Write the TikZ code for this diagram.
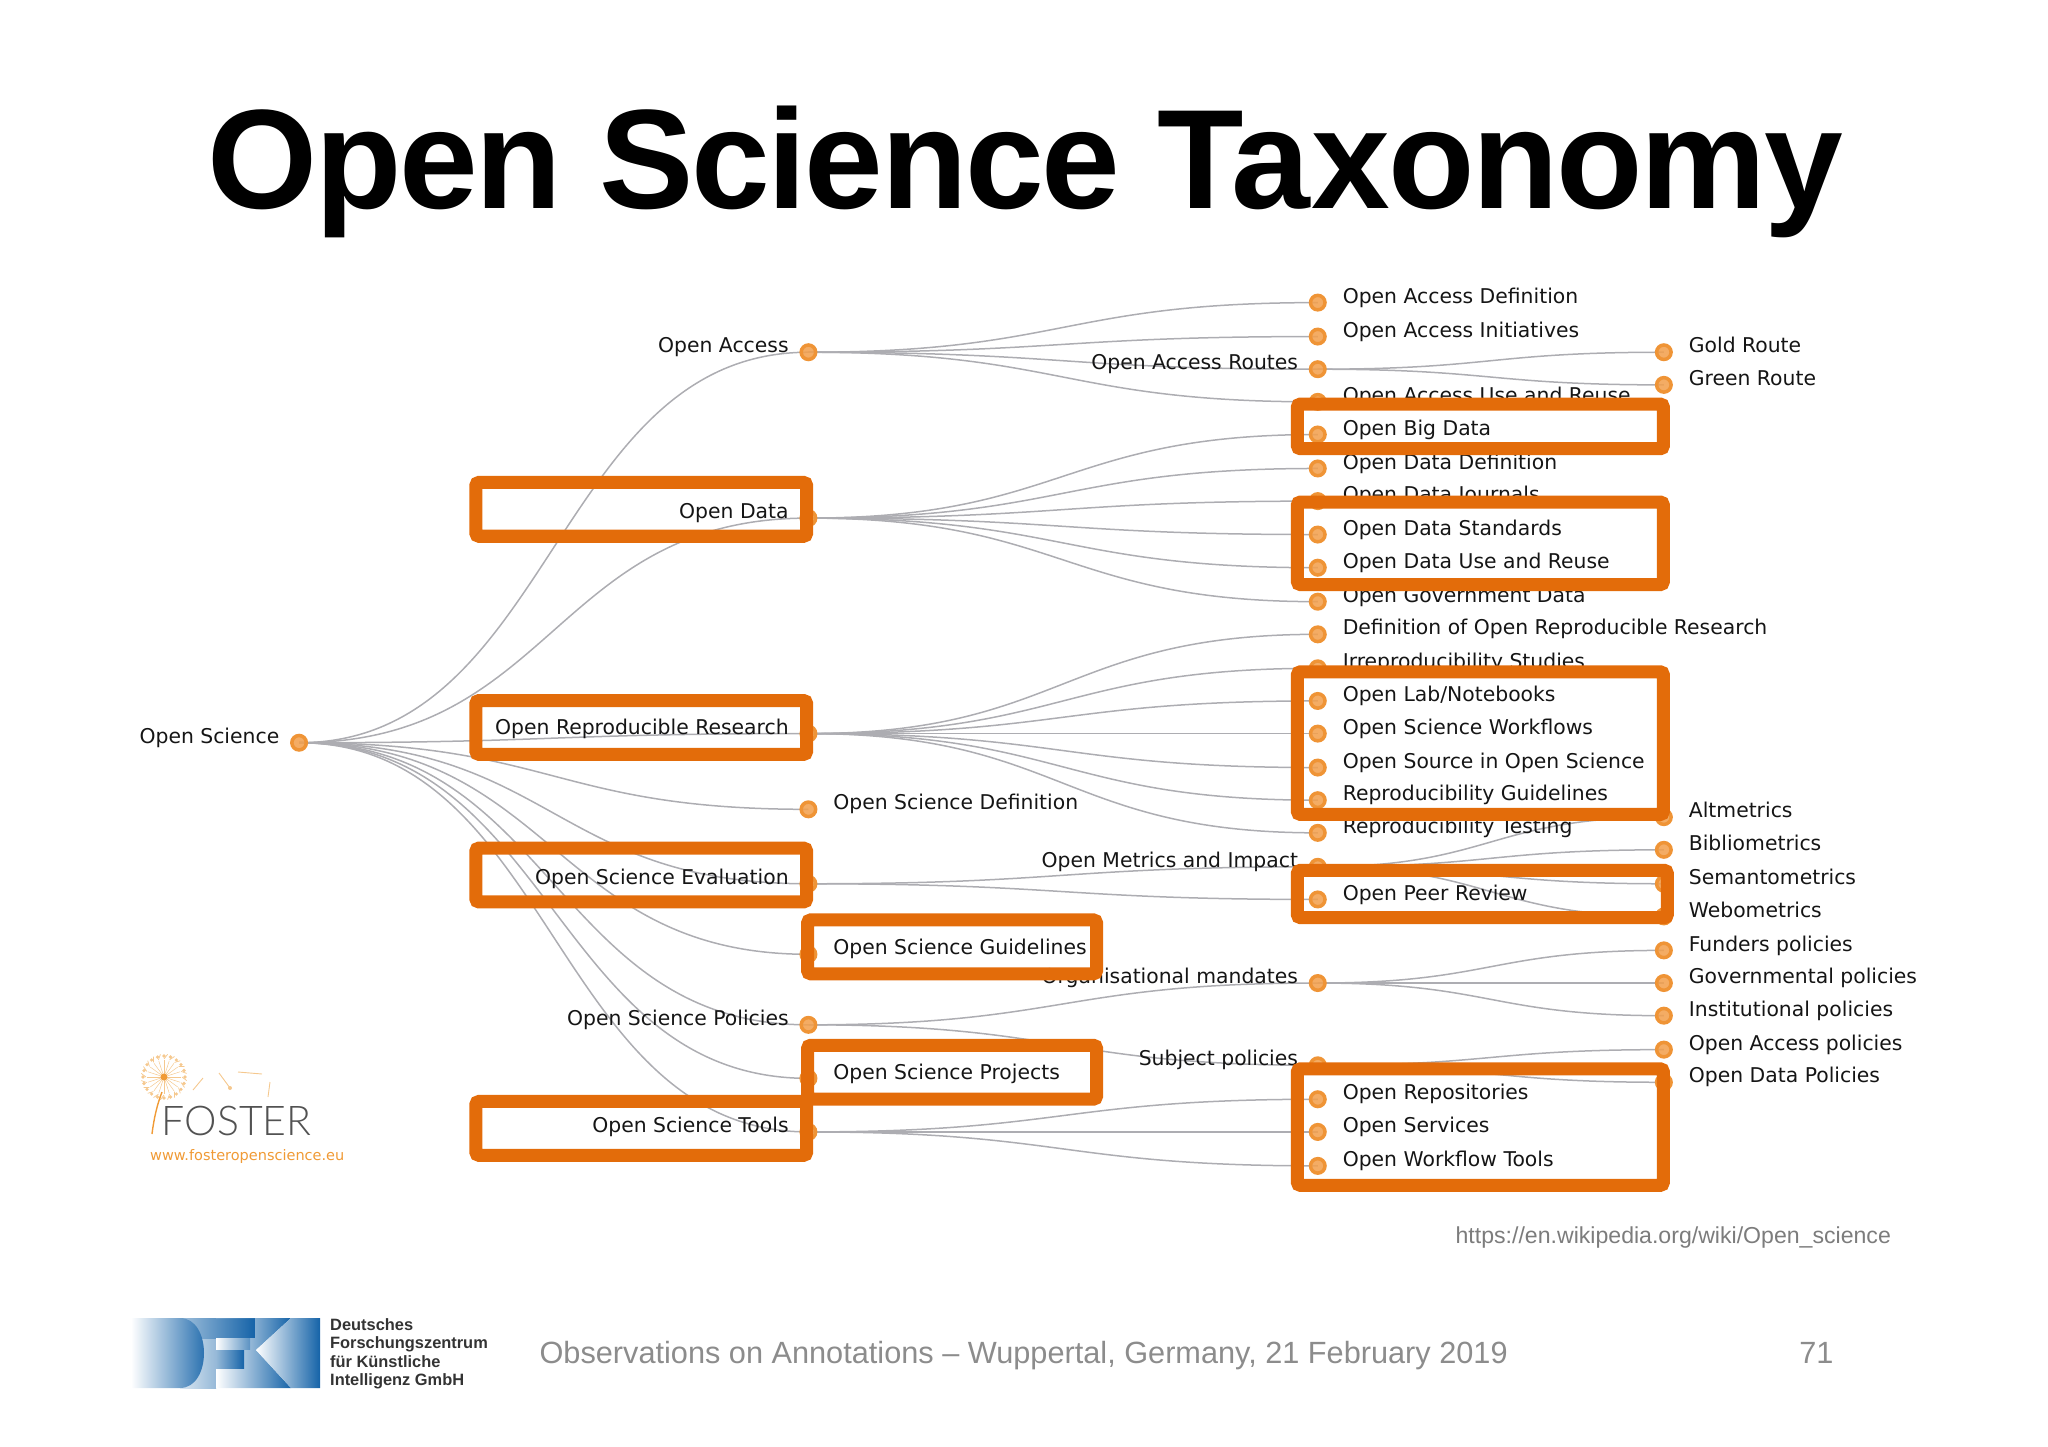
\documentclass[tikz,border=0pt]{standalone}
\usepackage{fontspec}
\usetikzlibrary{calc}
\setmainfont{DejaVu Sans}
\newfontfamily\helv{Liberation Sans}
\newfontfamily\titlef[LetterSpace=-1.6]{Liberation Sans}
\newfontfamily\fosfont[UprightFont=* Light]{Lato}
\definecolor{hlc}{HTML}{E36C0A}
\definecolor{linkc}{HTML}{ADADB2}
\definecolor{dotedge}{HTML}{EF9436}
\definecolor{dotfillc}{HTML}{F2A04E}
\definecolor{txt}{HTML}{151515}
\definecolor{foot}{HTML}{8C8C8C}
\definecolor{urlc}{HTML}{7C7C7C}
\definecolor{fo}{HTML}{F09A35}
\definecolor{fop}{HTML}{F5C88E}
\definecolor{dk}{HTML}{1563A8}
\pgfdeclarelayer{bg}
\pgfdeclarelayer{fg}
\pgfsetlayers{bg,main,fg}
\tikzset{
  link/.style={draw=linkc,line width=1.5pt},
  dotn/.style={circle,inner sep=0pt,minimum size=14.5pt,line width=3.5pt,draw=dotedge,fill=dotfillc,fill opacity=.88},
  lab/.style={inner sep=0pt,text=txt,font=\fontsize{20.35}{25}\selectfont},
  hl/.style={draw=hlc,line width=13pt,rounded corners=3pt},
  foottxt/.style={inner sep=0pt,text=foot,font=\helv\fontsize{30.7}{36}\selectfont},
  dfkit/.style={inner sep=0pt,anchor=base west,text=black!80,font=\helv\bfseries\fontsize{16.4}{18}\selectfont},
  seed/.style={draw=fop,line width=.9pt},
}
% dot + label on the right (leaf)
\newcommand{\lf}[4]{\node[dotn] (#1) at (#2,#3+.7) {};\node[lab,anchor=base west] (#1t) at ($(#2,#3)+(19,1.2)$) {#4};}
% dot + label on the left
\newcommand{\rt}[4]{\node[dotn] (#1) at (#2,#3+.7) {};\node[lab,anchor=base east] (#1t) at ($(#2,#3)+(-15,1.2)$) {#4};}
\newcommand{\lnk}[2]{\draw[link] (#1.center) .. controls ($(#1.center)!.5!(#2.center |- #1.center)$) and ($(#2.center)!.5!(#1.center |- #2.center)$) .. (#2.center);}
\newcommand{\hlb}[4]{\draw[hl] (#1+4.4,#2+4.4) rectangle (#3-4.4,#4-4.4);}
\begin{document}
\begin{tikzpicture}[x=1.306pt,y=-1.306pt]
\useasboundingbox (0,0) rectangle (1568.15,1107.96);
\node[inner sep=0pt,anchor=base west,font=\titlef\bfseries\fontsize{141.5}{150}\selectfont,text=black] (title) at (158.5,160) {Open Science Ta\kern2pt xonomy};

\rt{root}{229}{568}{Open Science}
\rt{oa}{619}{269}{Open Access}
\rt{od}{619}{396}{Open Data}
\rt{orr}{619}{561}{Open Reproducible Research}
\lf{osd}{619}{619}{Open Science Definition}
\rt{ose}{619}{676}{Open Science Evaluation}
\lf{osg}{619}{730}{Open Science Guidelines}
\rt{osp}{619}{784}{Open Science Policies}
\lf{ospr}{619}{825}{Open Science Projects}
\rt{ost}{619}{866}{Open Science Tools}

\lf{a1}{1009}{231}{Open Access Definition}
\lf{a2}{1009}{257}{Open Access Initiatives}
\rt{a3}{1009}{282}{Open Access Routes}
\lf{a4}{1009}{307}{Open Access Use and Reuse}
\lf{d1}{1009}{332}{Open Big Data}
\lf{d2}{1009}{358}{Open Data Definition}
\lf{d3}{1009}{383}{Open Data Journals}
\lf{d4}{1009}{408.6}{Open Data Standards}
\lf{d5}{1009}{434}{Open Data Use and Reuse}
\lf{d6}{1009}{460}{Open Government Data}
\lf{r1}{1009}{485}{Definition of Open Reproducible Research}
\lf{r2}{1009}{511}{Irreproducibility Studies}
\lf{r3}{1009}{536}{Open Lab/Notebooks}
\lf{r4}{1009}{561}{Open Science Workflows}
\lf{r5}{1009}{587}{Open Source in Open Science}
\lf{r6}{1009}{612}{Reproducibility Guidelines}
\lf{r7}{1009}{637}{Reproducibility Testing}
\rt{e1}{1009}{663}{Open Metrics and Impact}
\lf{e2}{1009}{688}{Open Peer Review}
\rt{p1}{1009}{752}{Organisational mandates}
\rt{p2}{1009}{815}{Subject policies}
\lf{t1}{1009}{841}{Open Repositories}
\lf{t2}{1009}{866}{Open Services}
\lf{t3}{1009}{892}{Open Workflow Tools}

\lf{g1}{1274}{269}{Gold Route}
\lf{g2}{1274}{294}{Green Route}
\lf{m1}{1274}{625}{Altmetrics}
\lf{m2}{1274}{650}{Bibliometrics}
\lf{m3}{1274}{676}{Semantometrics}
\lf{m4}{1274}{701}{Webometrics}
\lf{q1}{1274}{727}{Funders policies}
\lf{q2}{1274}{752}{Governmental policies}
\lf{q3}{1274}{777}{Institutional policies}
\lf{s1}{1274}{803}{Open Access policies}
\lf{s2}{1274}{828}{Open Data Policies}

\begin{pgfonlayer}{bg}
\foreach \a/\b in {root/oa,root/od,root/orr,root/osd,root/ose,root/osg,root/osp,root/ospr,root/ost,
  oa/a1,oa/a2,oa/a3,oa/a4,a3/g1,a3/g2,
  od/d1,od/d2,od/d3,od/d4,od/d5,od/d6,
  orr/r1,orr/r2,orr/r3,orr/r4,orr/r5,orr/r6,orr/r7,
  ose/e1,ose/e2,e1/m1,e1/m2,e1/m3,e1/m4,
  osp/p1,osp/p2,p1/q1,p1/q2,p1/q3,p2/s1,p2/s2,
  ost/t1,ost/t2,ost/t3}{\lnk{\a}{\b}}
\end{pgfonlayer}

\begin{pgfonlayer}{fg}
\hlb{360}{365}{622}{415}
\hlb{360}{532}{622}{582}
\hlb{360}{645}{622}{695}
\hlb{360}{839}{622}{889}
\hlb{614}{700}{844}{750}
\hlb{614}{796}{844}{846}
\hlb{989}{305}{1278}{348}
\hlb{989}{380}{1278}{452}
\hlb{989}{510}{1278}{628}
\hlb{989}{662}{1281}{707}
\hlb{989}{814}{1278}{912}
\end{pgfonlayer}

\node[inner sep=0pt,anchor=base east,text=urlc,font=\helv\fontsize{23.1}{26}\selectfont] (url) at (1448,952.3) {https://en.wikipedia.org/wiki/Open\_science};
\node[foottxt,anchor=base west] (foot1) at (413,1044) {Observations on Annotations – Wuppertal, Germany, 21 February 2019};
\node[foottxt,anchor=base east] (foot2) at (1404,1044) {71};

% logos, in pixel units
\begin{scope}[x=1pt,y=-1pt]
% DFKI
\shade[left color=white!85!dk,right color=dk!45] (180,1318) rectangle (216,1388);
\shade[left color=dk!40,right color=dk] (180,1318) rectangle (255,1338);
\shade[left color=white,right color=dk] (131,1318) -- (180,1318) .. controls (212,1318) and (212,1388) .. (180,1388) -- (131,1388) -- cycle;
\shade[left color=white,right color=dk] (216,1318) -- (291,1318) -- (256,1350) -- (291,1388) -- (216,1388) -- (216,1368) -- (244,1368) -- (244,1338) -- (255,1338) -- (255,1318) -- cycle;
\shade[left color=dk!45,right color=dk] (216,1349) rectangle (244,1368);
\shade[left color=white,right color=dk!70] (216,1338) rectangle (250,1349);
\shade[left color=white,right color=dk] (256,1350) -- (291,1318) -- (320,1318) -- (320,1388) -- (291,1388) -- cycle;
\node[dfkit] (k1) at (330,1330) {Deutsches};
\node[dfkit] (k2) at (330,1348.5) {Forschungszentrum};
\node[dfkit] (k3) at (330,1367) {für Künstliche};
\node[dfkit] (k4) at (330,1385.7) {Intelligenz GmbH};
% FOSTER
\foreach \r in {0,18,...,342}{
  \draw[draw=fop,line width=.5pt] (164,1077) -- ++(\r:17);
  \fill[fop] ($(164,1077)+(\r:21)$) circle (1.8pt);
  \draw[draw=fop,line width=.7pt] ($(164,1077)+(\r:18)$) -- ($(164,1077)+(\r+9:23)$);
}
\fill[fo] (164,1077) circle (3.5pt);
\draw[draw=fo,line width=1.4pt] (162,1092) .. controls (157,1105) and (154,1118) .. (152,1134);
\draw[seed] (203,1078) -- (193,1090);
\draw[seed] (219,1073) -- (230,1088);
\fill[fop] (230,1088) circle (2pt);
\draw[seed] (238,1072) -- (262,1074);
\draw[seed] (270,1082) -- (268,1097);
\node[inner sep=0pt,anchor=base west,text=black!68,font=\fosfont\fontsize{41}{44}\selectfont] (fos) at (161.5,1135) {FOSTER};
\node[inner sep=0pt,anchor=base west,text=fo,font=\fontsize{14.5}{18}\selectfont] (fosu) at (150,1160) {www.fosteropenscience.eu};
\end{scope}
\end{tikzpicture}
\end{document}
